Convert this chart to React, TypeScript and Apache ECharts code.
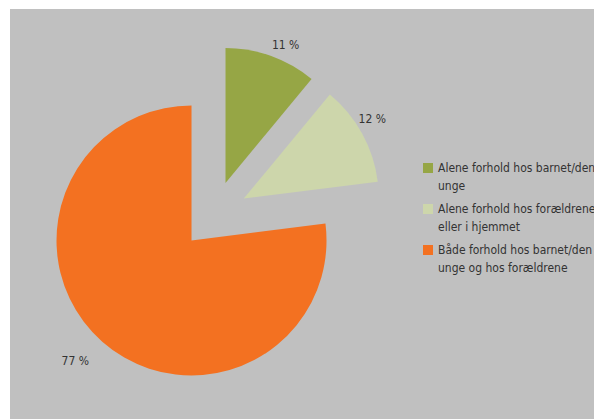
import React, { useEffect, useRef } from "react";
import * as echarts from "echarts";

const categories = [
  "Alene forhold hos barnet/den unge",
  "Alene forhold hos forældrene eller i hjemmet",
  "Både forhold hos barnet/den unge og hos forældrene",
];
const legendLines = [
  ["Alene forhold hos barnet/den", "unge"],
  ["Alene forhold hos forældrene", "eller i hjemmet"],
  ["Både forhold hos barnet/den", "unge og hos forældrene"],
];
const values = [11, 12, 77];
const colors = ["#96a645", "#cdd6ab", "#f37121"];
const labelLineLengths = [2, -4, 20];
// value label text templates (blank lines nudge the label up or down)
const labelTemplates = ["{c} %\n", "{c} %\n\n", "\n{c} %"];
const labelLineHeights = [18, 17, 8];

const FONT = "'Liberation Sans Narrow', 'DejaVu Sans Condensed', sans-serif";

export default function App() {
  const ref = useRef<HTMLDivElement>(null);
  useEffect(() => {
    document.body.style.overflow = "hidden";
    const chart = echarts.init(ref.current!, null, { renderer: "svg" });
    chart.setOption({
      animation: false,
      backgroundColor: "#c0c0c0",
      legend: {
        orient: "vertical",
        left: 413,
        top: 132,
        padding: 0,
        itemWidth: 10,
        itemHeight: 10,
        itemGap: -13,
        icon: "rect",
        selectedMode: false,
        data: categories,
        formatter: (name: string) => "\n" + legendLines[categories.indexOf(name)].join("\n"),
        textStyle: {
          fontFamily: FONT,
          fontSize: 12,
          color: "#333333",
          lineHeight: 18,
        },
      },
      series: [
        {
          type: "pie",
          center: [204, 206],
          radius: 135,
          startAngle: 90,
          clockwise: true,
          selectedMode: "multiple",
          selectedOffset: 34,
          avoidLabelOverlap: false,
          emphasis: { disabled: true },
          label: {
            show: true,
            position: "outside",
            fontFamily: FONT,
            fontSize: 12,
            color: "#333333",
            distanceToLabelLine: 0,
          },
          labelLine: { show: false, length2: 0 },
          data: categories.map((name, i) => ({
            name,
            value: values[i],
            selected: true,
            itemStyle: { color: colors[i] },
            label: { formatter: labelTemplates[i], lineHeight: labelLineHeights[i] },
            labelLine: { show: false, length: labelLineLengths[i], length2: 0 },
          })),
        },
      ],
    });
    return () => chart.dispose();
  }, []);
  return (
    <div
      style={{
        position: "fixed",
        left: 10,
        top: 9,
        width: 584,
        height: 410,
        overflow: "hidden",
      }}
    >
      <div ref={ref} style={{ width: 660, height: 410 }} />
    </div>
  );
}
